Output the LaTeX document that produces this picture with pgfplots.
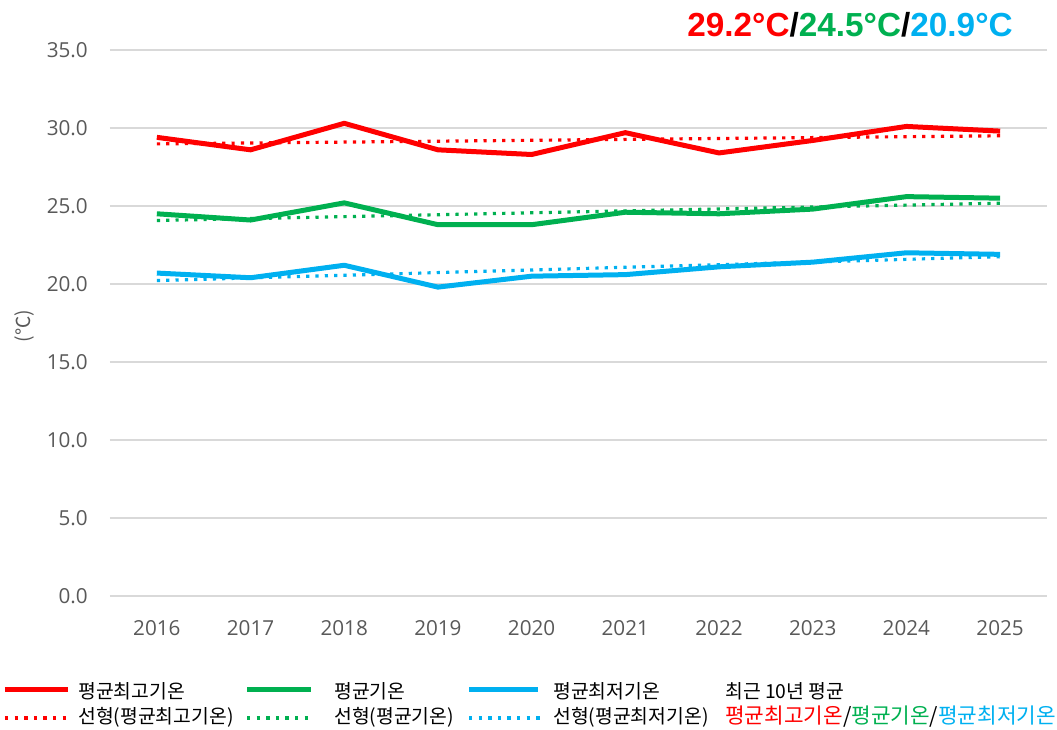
\documentclass[border=0pt]{standalone}
\usepackage{fontspec}
\usepackage{pgfplots}
\pgfplotsset{compat=1.18}
\setmainfont{Noto Sans CJK KR}
\newfontfamily\opensans{Open Sans}
\newfontfamily\titlefont{Liberation Sans}
\definecolor{cmax}{HTML}{FF0000}
\definecolor{cavg}{HTML}{00B050}
\definecolor{cmin}{HTML}{00B0F0}
\definecolor{gridc}{HTML}{D9D9D9}
\definecolor{tickc}{HTML}{595959}
\tikzset{px/.style={x=0.75pt,y=-0.75pt,shift={(-82.5pt,447pt)}},
  trend/.style={line width=2.4pt,dash pattern=on 2.4pt off 4.6pt},
  legtrend/.style={line width=3pt,dash pattern=on 2.6pt off 4.6pt}}
\begin{document}
\begin{tikzpicture}
\begin{scope}[px]
\useasboundingbox (0,0) rectangle (1057,730);
\end{scope}
\begin{axis}[
    scale only axis,
    width=702.75pt, height=409.5pt,
    xmin=2015.5, xmax=2025.5,
    ymin=0, ymax=35,
    xtick={2016,2017,...,2025},
    ytick={0,5,...,35},
    axis line style={draw=none},
    tick style={draw=none},
    major tick length=0pt,
    ymajorgrids,
    grid style={gridc, line width=0.9pt},
    ticklabel style={font=\opensans\fontsize{15.5}{15.5}\selectfont, text=tickc, inner sep=0pt},
    /pgf/number format/assume math mode=true,
    xticklabel style={/pgf/number format/1000 sep={}},
    yticklabel style={/pgf/number format/.cd, fixed, fixed zerofill, precision=1},
    yticklabel shift=16.5pt,
    xticklabel shift=18.5pt,
    every axis plot/.append style={line join=round},
    clip=false,
]
\addplot[cmax, line width=3.75pt] coordinates {
    (2016,29.4) (2017,28.6) (2018,30.3) (2019,28.6) (2020,28.3)
    (2021,29.7) (2022,28.4) (2023,29.2) (2024,30.1) (2025,29.8)
};
\addplot[cavg, line width=3.75pt] coordinates {
    (2016,24.5) (2017,24.1) (2018,25.2) (2019,23.8) (2020,23.8)
    (2021,24.6) (2022,24.5) (2023,24.8) (2024,25.6) (2025,25.5)
};
\addplot[cmin, line width=3.75pt] coordinates {
    (2016,20.7) (2017,20.4) (2018,21.2) (2019,19.8) (2020,20.5)
    (2021,20.6) (2022,21.1) (2023,21.4) (2024,22.0) (2025,21.9)
};
% linear trends
\addplot[cmax, trend] coordinates {(2016,28.98) (2025,29.50)};
\addplot[cavg, trend] coordinates {(2016,24.07) (2025,25.18)};
\addplot[cmin, trend] coordinates {(2016,20.22) (2025,21.75)};
\end{axis}
\begin{scope}[px]
\node[rotate=90, text=tickc, font=\fontsize{14.5}{14.5}\selectfont] at (24,326) {(℃)};
\node[font=\titlefont\bfseries\fontsize{25}{25}\selectfont, inner sep=0pt] at (850,25)
  {\textcolor{cmax}{29.2°C}/\textcolor{cavg}{24.5°C}/\textcolor{cmin}{20.9°C}};
% legend
\begin{scope}[every node/.style={anchor=west, inner sep=0pt, font=\fontsize{14.5}{14.5}\selectfont}]
\draw[cmax, line width=3.75pt] (5,690) -- (68,690);
\draw[cmax, legtrend] (5,718) -- (70,718);
\node at (78,691) {평균최고기온};
\node at (78,717) {선형(평균최고기온)};
\draw[cavg, line width=3.75pt] (247,690) -- (311,690);
\draw[cavg, legtrend] (247,718) -- (313,718);
\node at (334,691) {평균기온};
\node at (334,717) {선형(평균기온)};
\draw[cmin, line width=3.75pt] (469,690) -- (538,690);
\draw[cmin, legtrend] (469,718) -- (540,718);
\node at (553,691) {평균최저기온};
\node at (553,717) {선형(평균최저기온)};
\node at (725,691) {최근 10년 평균};
\node[font=\fontsize{16}{16}\selectfont] at (725,717) {\textcolor{cmax}{평균최고기온}/\textcolor{cavg}{평균기온}/\textcolor{cmin}{평균최저기온}};
\end{scope}
\end{scope}
\end{tikzpicture}
\end{document}
